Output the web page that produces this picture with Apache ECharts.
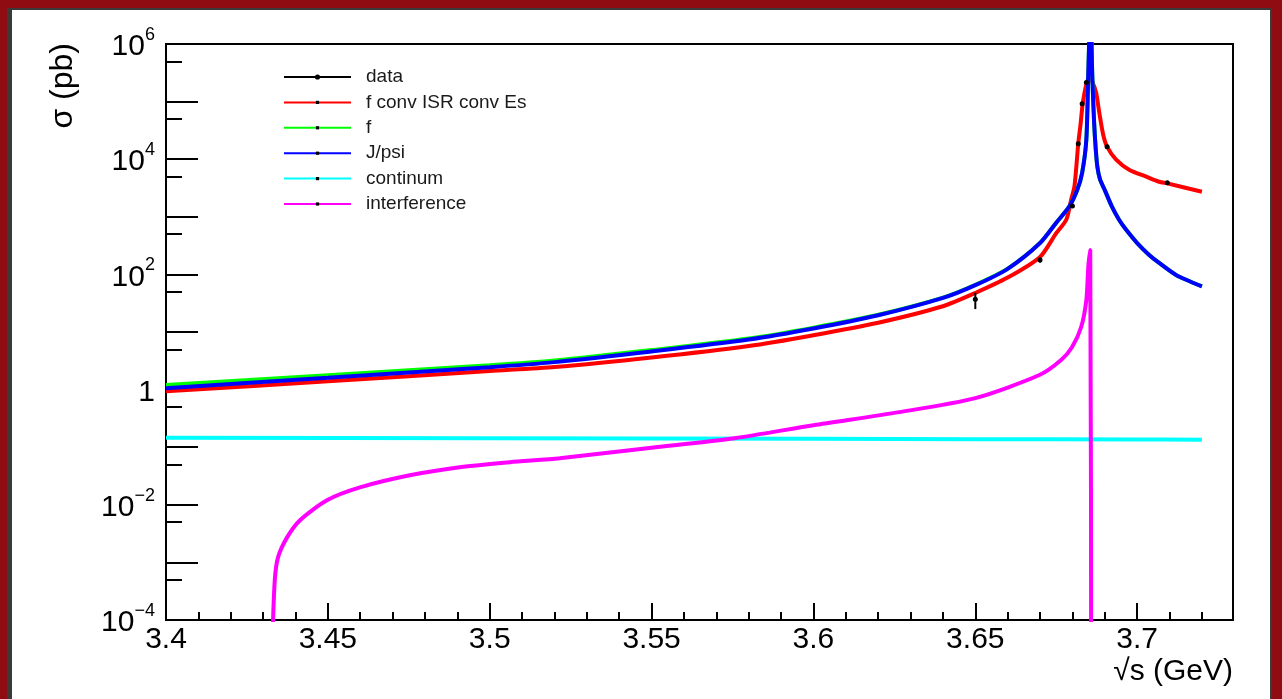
<!DOCTYPE html>
<html>
<head>
<meta charset="utf-8">
<script src="https://cdn.jsdelivr.net/npm/echarts@6/dist/echarts.min.js"></script>
<style>
  html, body { margin: 0; padding: 0; width: 1282px; height: 699px; overflow: hidden; background: #8e0c12; }
  #frame { position: absolute; left: 7px; top: 8px; width: 1258px; height: 691px; background: #fff;
           border-left: 5px solid #3a3a3a; border-top: 2px solid #3a3a3a; border-right: 2px solid #3a3a3a; }
  #main { position: absolute; left: 0; top: 0; width: 1282px; height: 699px; }
</style>
</head>
<body>
<div id="frame"></div>
<div id="main"></div>
<script>
const myChart = echarts.init(document.getElementById('main'));

// curves (x in GeV, y in pb)
const redX = [3.40, 3.45, 3.50, 3.52, 3.55, 3.58, 3.60, 3.62, 3.64, 3.65, 3.66, 3.67, 3.675, 3.6781, 3.6796, 3.6806, 3.6812, 3.6818, 3.6825, 3.6832, 3.6843, 3.6852, 3.6861, 3.6873, 3.6883, 3.6895, 3.6907, 3.6935, 3.6975, 3.7028, 3.7068, 3.7093, 3.72];
const redY = [0.94, 1.39, 2.1, 2.46, 3.6, 5.7, 8.8, 14.5, 28, 47.6, 88, 201, 520, 887, 1975, 3325, 7400, 18600, 40000, 95000, 200000, 260000, 223000, 144000, 64000, 26600, 16500, 9800, 6560, 4970, 4060, 3800, 2720];

const blueX = [3.40, 3.45, 3.50, 3.52, 3.55, 3.58, 3.60, 3.62, 3.64, 3.65, 3.66, 3.67, 3.675, 3.679, 3.6815, 3.683, 3.6843, 3.6849, 3.6856, 3.6861, 3.6867, 3.6872, 3.6877, 3.6885, 3.690, 3.6922, 3.6944, 3.6966, 3.7000, 3.7037, 3.7068, 3.712, 3.72];
const blueY = [1.06, 1.60, 2.45, 3.0, 4.6, 7.4, 11.5, 19.5, 39, 65, 125, 350, 790, 1500, 2950, 5800, 22000, 320000, 5000000, 320000, 43000, 15000, 7400, 4500, 2900, 1500, 890, 594, 350, 218, 158, 98, 62];
const greenY = [1.2, 1.78, 2.65, 3.2, 4.85, 7.7, 11.9, 19.9, 39.5, 66, 126, 352, 792, 1502, 2952, 5800, 22000, 320000, 5000000, 320000, 43000, 15000, 7400, 4500, 2900, 1500, 890, 594, 350, 218, 158, 98, 62];

const contX = [3.40, 3.50, 3.60, 3.65, 3.70, 3.72];
const contY = [0.146, 0.143, 0.140, 0.138, 0.136, 0.135];

const intX = [3.4329, 3.4336, 3.4346, 3.4374, 3.4414, 3.4497, 3.4599, 3.4753, 3.4907, 3.5062, 3.5216, 3.55, 3.5756, 3.60, 3.6265, 3.65, 3.6698, 3.6765, 3.6799, 3.6827, 3.6843, 3.6849, 3.6855, 3.6858];
const intY = [0.00005, 0.00049, 0.00122, 0.00272, 0.0054, 0.012, 0.0201, 0.0326, 0.0449, 0.055, 0.0644, 0.098, 0.1435, 0.241, 0.406, 0.711, 1.79, 3.26, 5.5, 12.2, 36, 135, 267, 0.000001];

const dataX = [3.650, 3.670, 3.680, 3.6818, 3.6830, 3.6843, 3.6907, 3.7093];
const dataY = [37, 178, 1540, 18600, 92000, 214000, 16500, 3900];
const dataLo = [25, 160, 1450, 17800, 89000, 208000, 16000, 3750];
const dataHi = [48, 198, 1630, 19400, 95000, 220000, 17000, 4050];

// axis ticks
const decadeTicks = [1e-4, 1e-3, 1e-2, 1e-1, 1, 1e1, 1e2, 1e3, 1e4, 1e5, 1e6];
const decadeLabels = [1e-4, 1e-2, 1, 1e2, 1e4, 1e6];
const halfTicks = [5e-4, 5e-3, 5e-2, 5e-1, 5, 5e1, 5e2, 5e3, 5e4, 5e5];

const font = '"Liberation Sans", Arial, sans-serif';
const pairs = (xs, ys) => xs.map((x, i) => [x, ys[i]]);

function powLabel(v) {
  const e = Math.round(Math.log10(v));
  if (e === 0) return '{b|1}';
  return '{b|10}{s|' + String(e).replace('-', '\u2212') + '}';
}

function curve(name, xs, ys, color) {
  return {
    name: name,
    type: 'line',
    data: pairs(xs, ys),
    showSymbol: false,
    symbol: 'rect',
    smooth: 0.25,
    itemStyle: { color: '#000' },
    lineStyle: { color: color, width: 4 },
    z: 2
  };
}

const option = {
  animation: false,
  grid: {
    left: 166, top: 44, width: 1067, height: 576,
    show: true, borderColor: '#000', borderWidth: 2, backgroundColor: 'transparent'
  },
  legend: {
    orient: 'vertical',
    left: 283, top: 67.5, padding: 0,
    itemWidth: 67, itemHeight: 4, itemGap: 6.4,
    textStyle: { fontFamily: font, fontSize: 19, color: '#1a1a1a', padding: [0, 0, 0, 10] },
    data: [
      { name: 'data', lineStyle: { width: 2, opacity: 1, color: '#000' }, itemStyle: { borderColor: '#000', borderWidth: 2 } },
      'f conv ISR conv Es', 'f', 'J/psi', 'continum', 'interference'
    ]
  },
  xAxis: [{
    type: 'value', min: 3.4, max: 3.7296, interval: 0.05,
    axisLine: { lineStyle: { color: '#000', width: 2 } },
    axisTick: { inside: true, length: 17, lineStyle: { color: '#000', width: 2 } },
    axisLabel: { fontFamily: font, fontSize: 30, color: '#000', margin: 5, showMaxLabel: false },
    splitLine: { show: false }
  }, {
    type: 'value', min: 3.4, max: 3.7296, interval: 0.01, position: 'bottom',
    axisLine: { show: false },
    axisTick: { inside: true, length: 8, lineStyle: { color: '#000', width: 2 } },
    axisLabel: { show: false },
    splitLine: { show: false }
  }],
  yAxis: [{
    type: 'log', logBase: 10, min: 1e-4, max: 1e6,
    axisLine: { show: true, lineStyle: { color: '#000', width: 2 } },
    axisTick: { show: true, inside: true, length: 32, customValues: decadeTicks, lineStyle: { color: '#000', width: 2 } },
    axisLabel: {
      customValues: decadeLabels, margin: 11, formatter: powLabel,
      rich: {
        b: { fontFamily: font, fontSize: 30, color: '#000', padding: [6, 0, 0, 0] },
        s: { fontFamily: font, fontSize: 18, color: '#000', verticalAlign: 'top' }
      }
    },
    splitLine: { show: false }
  }, {
    type: 'log', logBase: 10, min: 1e-4, max: 1e6, position: 'left',
    axisLine: { show: false },
    axisTick: { show: true, inside: true, length: 16, customValues: halfTicks, lineStyle: { color: '#000', width: 2 } },
    axisLabel: { show: false },
    splitLine: { show: false }
  }],
  graphic: [{
    type: 'text', x: 63, y: 43, rotation: Math.PI / 2,
    style: { text: 'σ (pb)', font: '32px ' + font, fill: '#000', align: 'right', verticalAlign: 'middle' }
  }, {
    type: 'text', x: 1233, y: 672,
    style: { text: '√s (GeV)', font: '30px ' + font, fill: '#000', align: 'right', verticalAlign: 'middle' }
  }],
  series: [
    curve('f conv ISR conv Es', redX, redY, '#ff0000'),
    curve('f', blueX, greenY, '#00ff00'),
    curve('J/psi', blueX, blueY, '#0000ff'),
    curve('continum', contX, contY, '#00ffff'),
    curve('interference', intX, intY, '#ff00ff'),
    {
      name: 'data',
      type: 'line',
      data: pairs(dataX, dataY),
      symbol: 'circle',
      symbolSize: 5,
      itemStyle: { color: '#000' },
      lineStyle: { width: 0, opacity: 0 },
      z: 5
    },
    {
      type: 'custom',
      data: dataX.map((x, i) => [x, dataLo[i], dataHi[i]]),
      encode: { x: 0, y: [1, 2] },
      renderItem: function (params, api) {
        const lo = api.coord([api.value(0), api.value(1)]);
        const hi = api.coord([api.value(0), api.value(2)]);
        return {
          type: 'line',
          shape: { x1: lo[0], y1: lo[1], x2: hi[0], y2: hi[1] },
          style: { stroke: '#000', lineWidth: 2 }
        };
      },
      z: 5
    }
  ]
};
myChart.setOption(option);
</script>
</body>
</html>
